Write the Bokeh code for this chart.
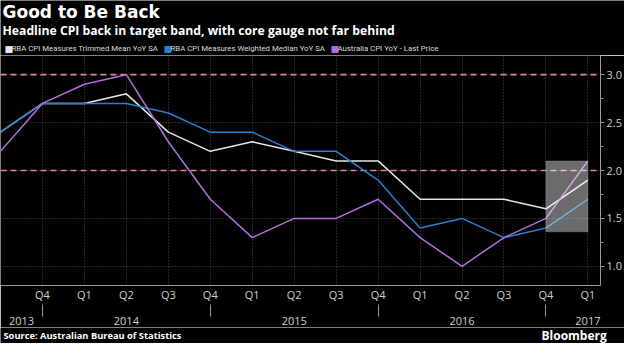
from bokeh.plotting import figure
from bokeh.layouts import column
from bokeh.models import (Range1d, FixedTicker, LinearAxis, Span, BoxAnnotation,
                          Label, ColumnDataSource)
from bokeh.embed import file_html
from bokeh.resources import INLINE

# ---- data ----
quarters = ["Q3", "Q4", "Q1", "Q2", "Q3", "Q4", "Q1", "Q2", "Q3", "Q4", "Q1", "Q2", "Q3", "Q4", "Q1"]
years = ["2013", "2014", "2015", "2016", "2017"]
year_pos = [0.5, 3, 7, 11, 14]
year_sep = [1, 5, 9, 13]
trimmed = [2.4, 2.7, 2.7, 2.8, 2.4, 2.2, 2.3, 2.2, 2.1, 2.1, 1.7, 1.7, 1.7, 1.6, 1.9]
median = [2.4, 2.7, 2.7, 2.7, 2.6, 2.4, 2.4, 2.2, 2.2, 1.9, 1.4, 1.5, 1.3, 1.4, 1.7]
cpi = [2.2, 2.7, 2.9, 3.0, 2.3, 1.7, 1.3, 1.5, 1.5, 1.7, 1.3, 1.0, 1.3, 1.5, 2.1]
band = [2.0, 3.0]
y_ticks = [1.0, 1.5, 2.0, 2.5, 3.0]
y_minor = [1.25, 1.75, 2.25, 2.75]
names = ["RBA CPI Measures Trimmed Mean YoY SA",
         "RBA CPI Measures Weighted Median YoY SA",
         "Australia CPI YoY - Last Price"]
colors = ["#e6e6e6", "#2a7fd4", "#b06fdc"]
highlight = dict(left=13, right=14, bottom=1.36, top=2.1)
title = "Good to Be Back"
subtitle = "Headline CPI back in target band, with core gauge not far behind"
source = "Source: Australian Bureau of Statistics"

x = list(range(len(quarters)))
src = ColumnDataSource(dict(x=x, trimmed=trimmed, median=median, cpi=cpi))

FONT = "Open Sans"
W = 624
HEAD_H, MAIN_H, FOOT_H = 55, 272, 16


def text_fig(h):
    f = figure(width=W, height=h, output_backend="svg", toolbar_location=None,
               x_range=Range1d(0, W), y_range=Range1d(h, 0),
               x_axis_location=None, y_axis_location=None,
               background_fill_color="black", border_fill_color="black",
               outline_line_color=None, min_border=0, min_border_left=0,
               min_border_right=0, min_border_top=0, min_border_bottom=0,
               frame_align=False)
    f.xgrid.visible = False
    f.ygrid.visible = False
    return f


# ---- header ----
head = text_fig(HEAD_H)
head.add_layout(Label(x=2, y=11, text=title, text_font="DejaVu Sans",
                      text_font_size="17px", text_font_style="bold", text_color="white",
                      text_baseline="middle", text_align="left"))
head.add_layout(Label(x=2, y=30, text=subtitle, text_font=FONT,
                      text_font_size="12.2px", text_font_style="bold", text_color="white",
                      text_baseline="middle", text_align="left"))
for n, c, sx in zip(names, colors, [4, 163, 330]):
    head.add_layout(Label(x=sx, y=48, text="\u25A0", text_font="DejaVu Sans",
                          text_font_size="9px", text_color=c, text_baseline="middle",
                          text_align="left"))
    head.add_layout(Label(x=sx + 7, y=48, text=n, text_font="Roboto",
                          text_font_size="7.8px", text_color="#dcdcdc",
                          text_baseline="middle", text_align="left"))

# ---- main chart ----
p = figure(width=W, height=MAIN_H, output_backend="svg", toolbar_location=None,
           x_range=Range1d(0, 14.3), y_range=Range1d(0.8, 3.2),
           y_axis_location="right", background_fill_color="black",
           border_fill_color="black", outline_line_color=None,
           min_border_left=0, min_border_right=24, min_border_top=0, min_border_bottom=29,
           frame_align=False)

p.xgrid.ticker = FixedTicker(ticks=x)
p.ygrid.ticker = FixedTicker(ticks=y_ticks)
for g in (p.xgrid, p.ygrid):
    g.grid_line_color = "#4a4a4a"
    g.grid_line_dash = "1 2"
    g.grid_line_width = 1

for b in band:
    p.add_layout(Span(location=b, dimension="width", line_color="#e8858b",
                      line_dash="6 4", line_width=1.6, level="underlay"))

for col, c in zip(["trimmed", "median", "cpi"], colors):
    p.line("x", col, source=src, line_color=c, line_width=1.5)

p.add_layout(BoxAnnotation(fill_color="white", fill_alpha=0.42, line_color="#b0b0b0",
                           line_width=1, **highlight))

ya = p.yaxis[0]
ya.ticker = FixedTicker(ticks=y_ticks, minor_ticks=y_minor)
ya.major_label_overrides = {t: f"{t:.1f}" for t in y_ticks}
ya.axis_line_color = "#9a9a9a"
ya.major_tick_line_color = "#9a9a9a"
ya.minor_tick_line_color = "#9a9a9a"
ya.major_tick_out = 4
ya.major_tick_in = 0
ya.minor_tick_out = 3
ya.minor_tick_in = 0
ya.major_label_standoff = 2
ya.major_label_text_color = "#d0d0d0"
ya.major_label_text_font = FONT
ya.major_label_text_font_size = "11px"

xa = p.xaxis[0]
xa.ticker = FixedTicker(ticks=x[1:])
xa.major_label_overrides = {i: q for i, q in enumerate(quarters)}
xa.axis_line_color = "#9a9a9a"
xa.major_tick_out = 0
xa.major_tick_in = 0
xa.minor_tick_line_color = None
xa.major_label_standoff = 1
xa.major_label_text_color = "#d0d0d0"
xa.major_label_text_font = FONT
xa.major_label_text_font_size = "11px"

xa2 = LinearAxis(ticker=FixedTicker(ticks=year_pos, minor_ticks=year_sep))
xa2.major_label_overrides = {p_: y for p_, y in zip(year_pos, years)}
xa2.axis_line_alpha = 0
xa2.major_tick_out = 0
xa2.major_tick_in = 0
xa2.minor_tick_out = 12
xa2.minor_tick_in = 0
xa2.minor_tick_line_color = "#9a9a9a"
xa2.major_label_standoff = 0
xa2.major_label_text_color = "#d0d0d0"
xa2.major_label_text_font = FONT
xa2.major_label_text_font_size = "11px"
p.add_layout(xa2, "below")

# ---- footer ----
foot = text_fig(FOOT_H)
foot.add_layout(Label(x=3, y=8, text=source, text_font=FONT, text_font_size="9.3px",
                      text_font_style="bold", text_color="white",
                      text_baseline="middle", text_align="left"))
foot.add_layout(Label(x=541, y=8, text="Bloomberg", text_font=FONT,
                      text_font_size="12px", text_font_style="bold", text_color="white",
                      text_baseline="middle", text_align="left"))

layout = column(head, p, foot, spacing=0)
open("out.html", "w").write(file_html(layout, INLINE))
